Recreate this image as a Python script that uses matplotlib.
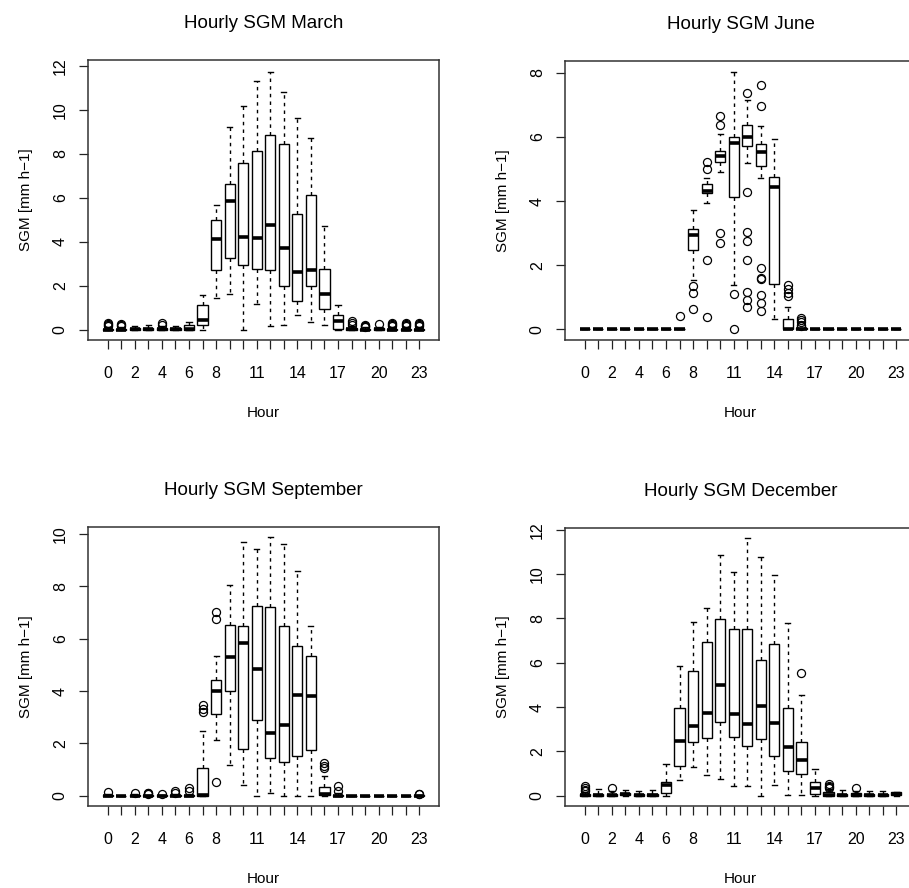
import matplotlib
matplotlib.use("Agg")
import matplotlib.pyplot as plt

plt.rcParams['font.family'] = ['Liberation Sans', 'DejaVu Sans']

HOURS = list(range(24))
XLABELS = ['0', '', '2', '', '4', '', '6', '', '8', '', '', '11', '', '', '14',
           '', '', '17', '', '', '20', '', '', '23']

# ---------------- March ----------------
MAR_Q1 = [0, 0, 0, 0, 0, 0, 0, 0.23, 2.70, 3.26, 2.95, 2.76, 2.70, 1.97, 1.29, 2.00,
          0.95, 0.03, 0, 0, 0, 0, 0, 0]
MAR_MED = [0, 0, 0.02, 0.02, 0.02, 0.02, 0.05, 0.42, 4.14, 5.86, 4.21, 4.15, 4.76, 3.71,
           2.62, 2.70, 1.64, 0.41, 0.02, 0, 0.02, 0, 0, 0]
MAR_Q3 = [0.05, 0.05, 0.07, 0.07, 0.08, 0.07, 0.22, 1.14, 4.97, 6.64, 7.58, 8.12, 8.85,
          8.47, 5.27, 6.11, 2.76, 0.65, 0.08, 0.05, 0.08, 0.05, 0.05, 0.05]
MAR_WLO = [0, 0, 0, 0, 0, 0, 0, 0.0, 1.44, 1.62, 0.0, 1.18, 0.15, 0.20, 0.65, 0.35,
           0.20, 0.0, 0, 0, 0, 0, 0, 0]
MAR_WHI = [0.10, 0.10, 0.15, 0.20, 0.15, 0.15, 0.35, 1.59, 5.68, 9.24, 10.18, 11.33,
           11.74, 10.80, 9.62, 8.74, 4.71, 1.12, 0.15, 0.10, 0.12, 0.10, 0.10, 0.10]
MAR_OUT = [[0.15, 0.2, 0.25, 0.3], [0.15, 0.2, 0.25], [], [], [0.2, 0.3], [], [], [],
           [], [], [], [], [], [], [], [], [], [], [0.2, 0.3, 0.4],
           [0.12, 0.15, 0.18, 0.2], [0.25], [0.15, 0.2, 0.25, 0.3],
           [0.15, 0.2, 0.25, 0.3], [0.15, 0.2, 0.25, 0.3]]

# ---------------- June ----------------
JUN_Q1 = [0] * 8 + [2.47, 4.24, 5.21, 4.14, 5.72, 5.10, 1.43, 0, 0] + [0] * 7
JUN_MED = [0] * 8 + [2.94, 4.32, 5.41, 5.80, 5.99, 5.52, 4.45, 0, 0] + [0] * 7
JUN_Q3 = [0] * 8 + [3.12, 4.52, 5.57, 6.01, 6.36, 5.77, 4.76, 0.33, 0.03] + [0] * 7
JUN_WLO = [0] * 8 + [1.55, 3.93, 4.92, 1.375, 5.20, 4.71, 0.33, 0, 0] + [0] * 7
JUN_WHI = [0] * 8 + [3.72, 4.71, 6.09, 8.04, 7.14, 6.34, 5.94, 0.70, 0.05] + [0] * 7
JUN_OUT = [[], [], [], [], [], [], [], [0.42],
           [1.35, 1.15, 0.65],
           [5.23, 4.99, 2.16, 0.39],
           [6.64, 6.36, 3.02, 2.68],
           [1.10, 0.02],
           [7.36, 4.27, 3.03, 2.75, 2.16, 1.17, 0.93, 0.70],
           [7.62, 6.97, 1.90, 1.60, 1.58, 1.08, 0.83, 0.57],
           [],
           [1.40, 1.25, 1.14, 1.04],
           [0.10, 0.15, 0.23, 0.30, 0.36],
           [], [], [], [], [], [], []]

# ---------------- September ----------------
SEP_Q1 = [0] * 7 + [0, 3.14, 4.00, 1.80, 2.89, 1.44, 1.28, 1.51, 1.76, 0.02, 0] + [0] * 6
SEP_MED = [0] * 7 + [0.02, 4.00, 5.30, 5.85, 4.85, 2.40, 2.72, 3.84, 3.81, 0.08, 0] + [0] * 6
SEP_Q3 = [0.02, 0, 0.02, 0.02, 0.02, 0.03, 0.03, 1.06, 4.44, 6.51, 6.49, 7.25, 7.21,
          6.49, 5.72, 5.34, 0.32, 0.03, 0, 0, 0, 0, 0, 0.02]
SEP_WLO = [0] * 7 + [0, 2.15, 1.19, 0.42, 0.0, 0.10, 0.0, 0.0, 0.0, 0, 0] + [0] * 6
SEP_WHI = [0.05, 0, 0.05, 0.04, 0.04, 0.06, 0.08, 2.46, 5.34, 8.05, 9.71, 9.43, 9.87,
           9.62, 8.57, 6.49, 0.74, 0.10, 0, 0, 0, 0, 0, 0.04]
SEP_OUT = [[0.16], [], [0.10], [0.06, 0.10, 0.12], [0.08], [0.12, 0.17], [0.20, 0.29],
           [3.22, 3.33, 3.45], [7.02, 6.77, 0.52], [], [], [], [], [], [], [],
           [1.05, 1.15, 1.25], [0.20, 0.36], [], [], [], [], [], [0.05, 0.07]]

# ---------------- December ----------------
DEC_Q1 = [0, 0, 0, 0.02, 0, 0, 0.12, 1.35, 2.41, 2.60, 3.35, 2.65, 2.23, 2.55, 1.80,
          1.12, 0.99, 0.09, 0, 0, 0, 0, 0, 0.02]
DEC_MED = [0.02, 0.02, 0.02, 0.08, 0.05, 0.05, 0.48, 2.45, 3.13, 3.73, 4.98, 3.70, 3.25,
           4.06, 3.27, 2.22, 1.62, 0.34, 0.05, 0.05, 0.05, 0.05, 0.05, 0.08]
DEC_Q3 = [0.08, 0.10, 0.10, 0.12, 0.10, 0.10, 0.64, 3.95, 5.65, 6.96, 7.98, 7.52, 7.52,
          6.14, 6.83, 3.94, 2.41, 0.64, 0.15, 0.10, 0.12, 0.10, 0.10, 0.15]
DEC_WLO = [0, 0, 0, 0, 0, 0, 0, 0.72, 1.32, 0.95, 0.75, 0.42, 0.42, 0.0, 0.49, 0.04,
           0.04, 0, 0, 0, 0, 0, 0, 0]
DEC_WHI = [0.15, 0.30, 0.20, 0.25, 0.20, 0.25, 1.44, 5.86, 7.86, 8.47, 10.84, 10.08,
           11.62, 10.79, 9.98, 7.79, 4.54, 1.20, 0.30, 0.25, 0.22, 0.20, 0.20, 0.18]
DEC_OUT = [[0.20, 0.28, 0.35, 0.42], [], [0.34], [], [], [], [], [], [], [], [], [], [],
           [], [], [], [5.56], [], [0.35, 0.40, 0.45, 0.54], [], [0.35], [], [], []]

PANELS = [
    ("Hourly SGM March", MAR_Q1, MAR_MED, MAR_Q3, MAR_WLO, MAR_WHI, MAR_OUT,
     (-0.47, 12.27), [0, 2, 4, 6, 8, 10, 12], [88, 60, 439, 340]),
    ("Hourly SGM June", JUN_Q1, JUN_MED, JUN_Q3, JUN_WLO, JUN_WHI, JUN_OUT,
     (-0.33, 8.37), [0, 2, 4, 6, 8], [565, 61, 916, 340]),
    ("Hourly SGM September", SEP_Q1, SEP_MED, SEP_Q3, SEP_WLO, SEP_WHI, SEP_OUT,
     (-0.39, 10.27), [0, 2, 4, 6, 8, 10], [88, 527, 439, 806]),
    ("Hourly SGM December", DEC_Q1, DEC_MED, DEC_Q3, DEC_WLO, DEC_WHI, DEC_OUT,
     (-0.46, 12.08), [0, 2, 4, 6, 8, 10, 12], [565, 528, 916, 806]),
]

W, H = 909, 888
fig = plt.figure(figsize=(W / 100, H / 100), dpi=100)

for title, q1, med, q3, wlo, whi, out, ylim, yticks, box in PANELS:
    l, t, r, b = box
    ax = fig.add_axes([l / W, 1 - b / H, (r - l) / W, (b - t) / H])
    stats = []
    for i in range(len(HOURS)):
        stats.append(dict(q1=q1[i], med=med[i], q3=q3[i], whislo=wlo[i],
                          whishi=whi[i], fliers=out[i]))
    ax.bxp(stats, positions=HOURS, widths=0.75, capwidths=0.375,
           patch_artist=True, manage_ticks=False,
           boxprops=dict(facecolor='white', edgecolor='black', linewidth=1.0),
           medianprops=dict(color='black', linewidth=2.6, solid_capstyle='butt'),
           whiskerprops=dict(color='black', linewidth=1.0, linestyle=(0, (2.5, 3))),
           capprops=dict(color='black', linewidth=1.0),
           flierprops=dict(marker='o', markerfacecolor='none', markeredgecolor='black',
                           markersize=5.8, markeredgewidth=0.9, linestyle='none'))
    ax.set_xlim(-1.46, 24.46)
    ax.set_ylim(*ylim)
    ax.set_xticks(HOURS)
    ax.set_xticklabels(XLABELS)
    ax.set_yticks(yticks)
    ax.set_yticklabels([str(v) for v in yticks])
    ax.tick_params(axis='both', direction='out', length=6.5, width=0.9,
                   labelsize=11.5, color='#222222')
    ax.tick_params(axis='x', pad=12)
    ax.tick_params(axis='y', pad=8, labelrotation=90)
    for lab in ax.get_yticklabels():
        lab.set_verticalalignment('center')
    for s in ax.spines.values():
        s.set_linewidth(1.1)
        s.set_color('#333333')
    ax.set_title(title, fontsize=13.5, pad=23)
    ax.set_xlabel('Hour', fontsize=11, labelpad=18)
    ax.set_ylabel('SGM [mm h\u22121]', fontsize=11, labelpad=14)

fig.savefig('out.png', dpi=100)
